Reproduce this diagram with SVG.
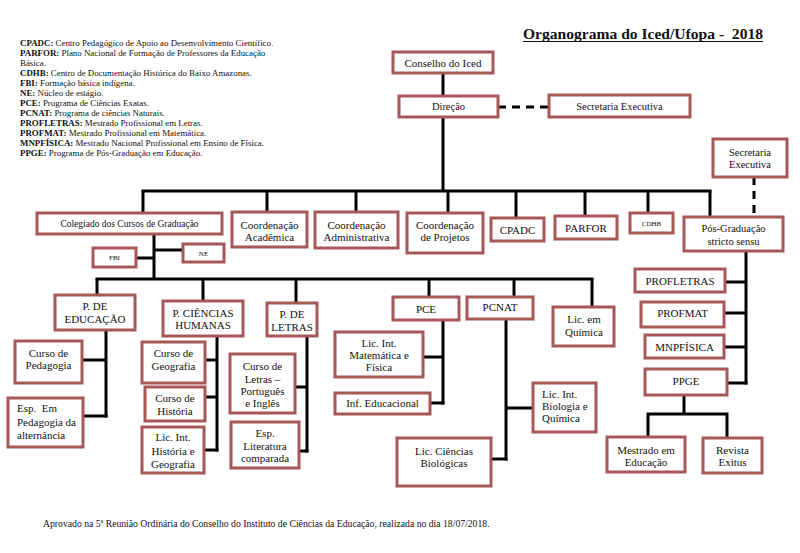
<svg xmlns="http://www.w3.org/2000/svg" width="800" height="553" viewBox="0 0 800 553" font-family="'Liberation Serif', 'Times New Roman', serif">
<style>
  .bg { fill: #ffffff; }
  .box rect { fill: #ffffff; stroke: #a65757; stroke-width: 3; }
  .box text { font-family: 'Liberation Serif', 'Times New Roman', serif; font-size: 11px; fill: #111; text-anchor: middle; }
  .box text.s { font-size: 10.5px; }
  .box text.xs { font-size: 7px; }
  .box text.l { text-anchor: start; }
  .con line, .con polyline { stroke: #000; stroke-width: 3; fill: none; }
  .con .dash { stroke-dasharray: 8 6; }
  .leg { font-family: 'Liberation Serif', 'Times New Roman', serif; font-size: 8.9px; fill: #111; }
  .leg tspan.b { font-weight: bold; }
  .title { font-family: 'Liberation Serif', 'Times New Roman', serif; font-size: 15px; font-weight: bold; fill: #111; }
  .foot { font-family: 'Liberation Serif', 'Times New Roman', serif; font-size: 9.7px; fill: #111; }
</style>
<rect class="bg" x="0" y="0" width="800" height="553"/>

<text class="title" x="523" y="39" textLength="240" lengthAdjust="spacingAndGlyphs" xml:space="preserve">Organograma do Iced/Ufopa -  2018</text>
<line x1="523" y1="41.5" x2="763" y2="41.5" stroke="#111" stroke-width="1.2"/>

<g id="legend" class="leg">
  <text x="20" y="46"><tspan class="b">CPADC:</tspan> Centro Pedagógico de Apoio ao Desenvolvimento Científico.</text>
  <text x="20" y="56"><tspan class="b">PARFOR:</tspan> Plano Nacional de Formação de Professores da Educação</text>
  <text x="20" y="66">Básica.</text>
  <text x="20" y="76"><tspan class="b">CDHB:</tspan> Centro de Documentação Histórica do Baixo Amazonas.</text>
  <text x="20" y="86"><tspan class="b">FBI:</tspan> Formação básica indígena.</text>
  <text x="20" y="96"><tspan class="b">NE:</tspan> Núcleo de estágio.</text>
  <text x="20" y="106"><tspan class="b">PCE:</tspan> Programa de Ciências Exatas.</text>
  <text x="20" y="116"><tspan class="b">PCNAT:</tspan> Programa de ciências Naturais.</text>
  <text x="20" y="126"><tspan class="b">PROFLETRAS:</tspan> Mestrado Profissional em Letras.</text>
  <text x="20" y="136"><tspan class="b">PROFMAT:</tspan> Mestrado Profissional em Matemática.</text>
  <text x="20" y="146"><tspan class="b">MNPFÍSICA:</tspan> Mestrado Nacional Profissional em Ensino de Física.</text>
  <text x="20" y="156"><tspan class="b">PPGE:</tspan> Programa de Pós-Graduação em Educação.</text>
</g>

<g id="connectors" class="con">
  <line x1="443" y1="73" x2="443" y2="96"/>
  <line x1="443" y1="117" x2="443" y2="191"/>
  <line class="dash" x1="498" y1="107" x2="549" y2="107"/>
  <line x1="141.5" y1="191" x2="711.5" y2="191"/>
  <line x1="143" y1="191" x2="143" y2="213"/>
  <line x1="267" y1="191" x2="267" y2="212"/>
  <line x1="356" y1="191" x2="356" y2="212"/>
  <line x1="448" y1="191" x2="448" y2="213"/>
  <line x1="516" y1="191" x2="516" y2="218"/>
  <line x1="585" y1="191" x2="585" y2="216"/>
  <line x1="648" y1="191" x2="648" y2="213"/>
  <line x1="710" y1="191" x2="710" y2="217"/>
  <line class="dash" x1="754" y1="177" x2="754" y2="217"/>
  <line x1="746" y1="251" x2="746" y2="384.5"/>
  <line x1="725" y1="282" x2="746" y2="282"/>
  <line x1="724" y1="313" x2="746" y2="313"/>
  <line x1="724" y1="347" x2="746" y2="347"/>
  <line x1="727" y1="383" x2="747.5" y2="383"/>
  <line x1="684" y1="395" x2="684" y2="414"/>
  <polyline points="648,437 648,414 727,414 727,438"/>
  <line x1="154" y1="234" x2="154" y2="279"/>
  <line x1="136" y1="258" x2="154" y2="258"/>
  <line x1="154" y1="250" x2="183" y2="250"/>
  <line x1="95.5" y1="279" x2="593.5" y2="279"/>
  <line x1="97" y1="279" x2="97" y2="295"/>
  <line x1="203" y1="279" x2="203" y2="301"/>
  <line x1="296" y1="279" x2="296" y2="303"/>
  <line x1="429" y1="279" x2="429" y2="297"/>
  <line x1="514" y1="279" x2="514" y2="297"/>
  <line x1="592" y1="279" x2="592" y2="307"/>
  <line x1="106" y1="330" x2="106" y2="417.5"/>
  <line x1="82" y1="360" x2="106" y2="360"/>
  <line x1="83" y1="416" x2="107.5" y2="416"/>
  <line x1="217" y1="336" x2="217" y2="451.5"/>
  <line x1="205" y1="360" x2="217" y2="360"/>
  <line x1="205" y1="397" x2="217" y2="397"/>
  <line x1="204" y1="450" x2="218.5" y2="450"/>
  <line x1="307" y1="336" x2="307" y2="452.5"/>
  <line x1="295" y1="387" x2="307" y2="387"/>
  <line x1="299" y1="451" x2="308.5" y2="451"/>
  <line x1="443" y1="320" x2="443" y2="404.5"/>
  <line x1="423" y1="357" x2="443" y2="357"/>
  <line x1="430" y1="403" x2="444.5" y2="403"/>
  <line x1="506" y1="319" x2="506" y2="460.5"/>
  <line x1="506" y1="408" x2="533" y2="408"/>
  <line x1="491" y1="459" x2="507.5" y2="459"/>
</g>

<g id="n-conselho" class="box"><rect x="393" y="52" width="100" height="21"/><text x="443" y="66.5">Conselho do Iced</text></g>
<g id="n-direcao" class="box"><rect x="399" y="96" width="99" height="21"/><text class="s" x="448.5" y="110">Direção</text></g>
<g id="n-sec-exec" class="box"><rect x="549" y="95" width="141" height="22"/><text class="s" x="619.5" y="110">Secretaria Executiva</text></g>
<g id="n-sec-exec-pg" class="box"><rect x="713" y="139" width="74" height="38"/><text class="s" x="750" y="155.5">Secretaria</text><text class="s" x="750" y="168">Executiva</text></g>

<g id="n-colegiado" class="box"><rect x="37" y="213" width="185" height="21"/><text x="129.5" y="227" style="font-size:9.5px">Colegiado dos Cursos de Graduação</text></g>
<g id="n-coord-acad" class="box"><rect x="232" y="212" width="75" height="35"/><text x="269.5" y="228.5">Coordenação</text><text x="269.5" y="240.5">Acadêmica</text></g>
<g id="n-coord-adm" class="box"><rect x="315" y="212" width="83" height="36"/><text x="356.5" y="228.5">Coordenação</text><text x="356.5" y="240.5">Administrativa</text></g>
<g id="n-coord-proj" class="box"><rect x="407" y="213" width="76" height="40"/><text x="445" y="229">Coordenação</text><text x="445" y="241">de Projetos</text></g>
<g id="n-cpadc" class="box"><rect x="491" y="218" width="53" height="23"/><text x="517.5" y="233.5">CPADC</text></g>
<g id="n-parfor" class="box"><rect x="555" y="216" width="62" height="23"/><text x="586" y="231.5">PARFOR</text></g>
<g id="n-cdhb" class="box"><rect x="630" y="213" width="43" height="20"/><text class="xs" x="651.5" y="225.5">CDHB</text></g>
<g id="n-posgrad" class="box"><rect x="684" y="217" width="99" height="34"/><text class="s" x="733.5" y="232">Pós-Graduação</text><text class="s" x="733.5" y="245">stricto sensu</text></g>

<g id="n-fbi" class="box"><rect x="93" y="248" width="43" height="19"/><text class="xs" x="114.5" y="260">FBI</text></g>
<g id="n-ne" class="box"><rect x="183" y="244" width="41" height="18"/><text class="xs" x="203.5" y="255.5">NE</text></g>

<g id="n-p-educacao" class="box"><rect x="55" y="295" width="80" height="35"/><text x="95" y="310">P. DE</text><text x="95" y="323">EDUCAÇÃO</text></g>
<g id="n-p-ch" class="box"><rect x="163" y="301" width="80" height="35"/><text x="203" y="317">P. CIÊNCIAS</text><text x="203" y="329">HUMANAS</text></g>
<g id="n-p-letras" class="box"><rect x="267" y="303" width="50" height="33"/><text x="292" y="318">P. DE</text><text x="292" y="331">LETRAS</text></g>
<g id="n-pce" class="box"><rect x="393" y="297" width="66" height="23"/><text x="426" y="312.5">PCE</text></g>
<g id="n-pcnat" class="box"><rect x="467" y="297" width="66" height="22"/><text x="500" y="311">PCNAT</text></g>
<g id="n-lic-quimica" class="box"><rect x="553" y="307" width="61" height="39"/><text x="584" y="323">Lic. em</text><text x="584" y="336">Química</text></g>

<g id="n-curso-ped" class="box"><rect x="15" y="341" width="67" height="42"/><text x="48.5" y="357">Curso de</text><text x="48.5" y="369">Pedagogia</text></g>
<g id="n-esp-ped" class="box"><rect x="8" y="398" width="75" height="49"/><text class="l" x="17" y="412" xml:space="preserve">Esp.  Em</text><text class="l" x="17" y="426">Pedagogia da</text><text class="l" x="17" y="439">alternância</text></g>

<g id="n-curso-geo" class="box"><rect x="142" y="342" width="63" height="41"/><text x="173.5" y="357">Curso de</text><text x="173.5" y="370">Geografia</text></g>
<g id="n-curso-hist" class="box"><rect x="145" y="387" width="60" height="34"/><text x="175" y="402">Curso de</text><text x="175" y="415">História</text></g>
<g id="n-lic-hg" class="box"><rect x="142" y="427" width="62" height="46"/><text x="173" y="441">Lic. Int.</text><text x="173" y="454.5">História e</text><text x="173" y="468">Geografia</text></g>

<g id="n-curso-letras" class="box"><rect x="230" y="354" width="65" height="59"/><text x="262.5" y="370">Curso de</text><text x="262.5" y="382.5">Letras –</text><text x="262.5" y="395">Português</text><text x="262.5" y="407">e Inglês</text></g>
<g id="n-esp-lit" class="box"><rect x="231" y="422" width="68" height="46"/><text x="265" y="437">Esp.</text><text x="265" y="450">Literatura</text><text x="265" y="462">comparada</text></g>

<g id="n-lic-mf" class="box"><rect x="335" y="332" width="88" height="45"/><text x="379" y="347">Lic. Int.</text><text x="379" y="359">Matemática e</text><text x="379" y="371">Física</text></g>
<g id="n-inf-educ" class="box"><rect x="335" y="393" width="95" height="21"/><text x="382.5" y="407">Inf. Educacional</text></g>
<g id="n-lic-bq" class="box"><rect x="533" y="383" width="63" height="49"/><text class="l" x="542" y="398">Lic. Int.</text><text class="l" x="542" y="410">Biologia e</text><text class="l" x="542" y="422">Química</text></g>
<g id="n-lic-cb" class="box"><rect x="397" y="438" width="94" height="48"/><text x="444" y="455">Lic. Ciências</text><text x="444" y="467">Biológicas</text></g>

<g id="n-profletras" class="box"><rect x="635" y="269" width="90" height="23"/><text x="680" y="284.5">PROFLETRAS</text></g>
<g id="n-profmat" class="box"><rect x="641" y="302" width="83" height="25"/><text x="682.5" y="317">PROFMAT</text></g>
<g id="n-mnpfisica" class="box"><rect x="645" y="335" width="79" height="23"/><text x="684.5" y="351">MNPFÍSICA</text></g>
<g id="n-ppge" class="box"><rect x="645" y="369" width="82" height="26"/><text x="686" y="385">PPGE</text></g>
<g id="n-mestrado" class="box"><rect x="607" y="437" width="78" height="35"/><text x="646" y="454">Mestrado em</text><text x="646" y="466">Educação</text></g>
<g id="n-revista" class="box"><rect x="703" y="438" width="59" height="35"/><text x="732.5" y="454">Revista</text><text x="732.5" y="466">Exitus</text></g>

<text class="foot" x="43" y="527">Aprovado na 5ª Reunião Ordinária do Conselho do Instituto de Ciências da Educação, realizada no dia 18/07/2018.</text>
</svg>
